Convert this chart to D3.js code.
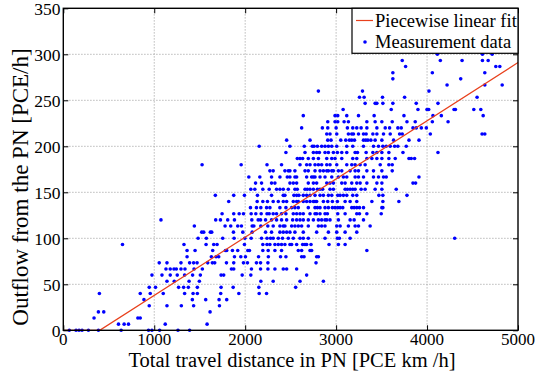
<!DOCTYPE html>
<html><head><meta charset="utf-8">
<script src="https://cdn.jsdelivr.net/npm/d3@7"></script>
<style>body{margin:0;background:#fff}svg{display:block}text{font-family:"Liberation Serif","Times New Roman",serif;fill:#000}</style>
</head><body><svg id="c" width="536" height="373"></svg>
<script>
const xTicks = [0, 1000, 2000, 3000, 4000, 5000];
const yTicks = [0, 50, 100, 150, 200, 250, 300, 350];
const fitX = [0, 400, 5000];
const fitY = [0, 0, 291];
const rowValues = [0, 6.7, 13.3, 20, 26.7, 33.3, 40, 46.7, 53.3, 60, 66.7, 73.3, 80, 86.7, 93.3, 100, 106.7, 113.3, 120, 126.7, 133.3, 140, 146.7, 153.3, 160, 166.7, 173.3, 180, 186.7, 193.3, 200, 206.7, 213.3, 220, 226.7, 233.3, 240, 246.7, 253.3, 260, 266.7, 273.3, 280, 286.7, 293.3, 300];
const rowX = [
 [66, 140, 173, 206, 276, 386, 636, 937, 975, 1059, 1261, 1389],
 [607, 669, 717, 1121, 1581],
 [338, 820, 846],
 [386, 445, 1614],
 [945, 1140, 1298, 1433, 1717],
 [887, 1419, 1566, 1713, 1797],
 [397, 846, 956, 1099, 1334, 1427, 1474, 1731, 1930, 2154, 2235],
 [945, 1014, 1268, 1323, 1375, 1474, 1735, 1868, 2150, 2555],
 [1140, 1220, 1383, 1496, 2172, 2308, 2603, 2860],
 [975, 1085, 1176, 1253, 1334, 1422, 1507, 1735, 1764, 1967, 2062, 2676],
 [1129, 1176, 1217, 1243, 1294, 1338, 1438, 1529, 1849, 1874, 2069, 2169, 2250, 2327, 2419, 2456, 2566],
 [1055, 1140, 1294, 1389, 1433, 1471, 1588, 1639, 1665, 1794, 1874, 1981, 2025, 2124, 2169, 2250, 2779],
 [1361, 1628, 1680, 1709, 1882, 1952, 2003, 2147, 2255, 2389, 2448, 2621, 2647, 2786, 2805],
 [1361, 1449, 1643, 1783, 1797, 1860, 1918, 2029, 2047, 2194, 2253, 2327, 2400, 2584, 2621, 2713, 2731, 3338],
 [651, 1327, 1570, 1654, 1691, 1992, 2194, 2240, 2272, 2327, 2364, 2400, 2437, 2492, 2511, 2566, 2632, 2658, 2676, 2724, 2922, 3025, 3099],
 [1482, 1573, 1753, 1878, 1996, 2066, 2180, 2240, 2279, 2308, 2364, 2411, 2474, 2529, 2603, 2639, 2694, 2878, 3014, 3036, 3154, 4304],
 [1522, 1544, 1617, 1632, 1871, 1974, 2077, 2224, 2290, 2382, 2419, 2456, 2492, 2547, 2639, 2786, 2915, 3007, 3099, 3227],
 [1441, 1779, 1841, 1918, 1959, 2077, 2095, 2172, 2249, 2308, 2382, 2419, 2437, 2511, 2547, 2584, 2621, 2694, 2805, 2841, 2878, 3007, 3044, 3135, 3209, 3246, 3374],
 [1074, 1676, 1728, 1808, 1882, 2073, 2143, 2169, 2224, 2290, 2345, 2400, 2456, 2522, 2566, 2603, 2639, 2694, 2750, 2805, 2841, 2878, 2897, 2933, 3025, 3154, 3198, 3301],
 [1746, 1874, 1934, 1981, 2066, 2117, 2176, 2240, 2264, 2308, 2345, 2400, 2448, 2529, 2566, 2603, 2639, 2713, 2768, 2786, 2823, 2878, 2904, 3018, 3099, 3227, 3257, 3338, 3496],
 [2058, 2124, 2172, 2235, 2272, 2382, 2448, 2511, 2547, 2584, 2694, 2768, 2794, 2823, 2878, 2915, 2959, 2988, 3018, 3044, 3073, 3172, 3198, 3227, 3257, 3301, 3503, 3514],
 [1819, 2132, 2194, 2245, 2308, 2364, 2419, 2456, 2529, 2566, 2584, 2639, 2676, 2713, 2750, 2768, 2786, 2860, 2908, 2959, 3014, 3099, 3154, 3227, 3393, 3514, 3690],
 [1672, 1874, 1992, 2135, 2290, 2419, 2437, 2536, 2566, 2591, 2639, 2676, 2713, 2768, 2823, 2860, 2915, 2952, 3018, 3044, 3080, 3117, 3183, 3227, 3470, 3514, 3779],
 [2062, 2106, 2194, 2264, 2345, 2382, 2419, 2474, 2547, 2573, 2658, 2683, 2713, 2750, 2794, 2823, 2852, 2933, 2970, 3099, 3124, 3154, 3183, 3209, 3275, 3319, 3429, 3503, 3661],
 [2114, 2180, 2290, 2327, 2492, 2529, 2566, 2694, 2750, 2786, 2897, 2933, 2970, 3062, 3099, 3172, 3227, 3264, 3338, 3448, 3503, 3845, 3874],
 [2040, 2161, 2290, 2382, 2463, 2492, 2547, 2566, 2676, 2731, 2750, 2768, 2823, 2878, 2952, 3025, 3080, 3117, 3209, 3246, 3301, 3411, 3466, 3521, 3551, 3911],
 [2272, 2308, 2437, 2474, 2492, 2547, 2658, 2694, 2768, 2823, 2860, 2897, 2915, 2952, 2970, 3025, 3062, 3154, 3209, 3246, 3338, 3411, 3503, 3617],
 [1526, 1956, 2240, 2400, 2603, 2676, 2713, 2768, 2805, 2841, 2897, 2933, 3007, 3117, 3172, 3209, 3264, 3319, 3485, 3580, 3617],
 [2573, 2603, 2632, 2694, 2750, 2805, 2897, 2952, 2988, 3062, 3183, 3227, 3338, 3393, 3448, 3503, 3580, 3650, 3801, 3826, 3863],
 [2448, 2658, 2750, 2786, 2816, 2878, 2915, 2970, 3014, 3062, 3117, 3209, 3235, 3330, 3404, 3448, 3503, 3580, 3735, 4120],
 [2154, 2492, 2650, 2738, 2757, 2794, 2841, 2878, 2915, 2952, 3007, 3117, 3183, 3301, 3411, 3466, 3514, 3551, 3595, 3643, 3679, 3771],
 [2456, 2713, 2908, 2944, 3051, 3106, 3146, 3172, 3202, 3301, 3326, 3349, 3382, 3429, 3503, 3632, 3801, 3911],
 [2897, 2933, 3007, 3135, 3172, 3191, 3246, 3301, 3330, 3404, 3448, 3521, 3595, 3698, 3727, 4036, 4605, 4635],
 [2621, 2849, 2908, 3000, 3124, 3183, 3227, 3275, 3338, 3448, 3540, 3588, 3679, 3716, 3845, 3881, 3937, 3992],
 [2908, 2988, 3018, 3088, 3135, 3338, 3429, 3503, 3617, 3779, 3870, 4058, 4231],
 [2639, 2988, 3018, 3117, 3246, 3418, 3746, 4065, 4157, 4617],
 [3077, 3606, 3900, 3999, 4018, 4297, 4312, 4514, 4591],
 [3319, 3429, 3448, 3514, 3624, 3881, 4120],
 [3257, 3308, 3510, 3753, 4550],
 [2805, 3290, 4021],
 [4220, 4635, 4826],
 [3624, 4370],
 [3624, 4058, 4635],
 [3764, 4756, 4800],
 [3727, 4146, 4385, 4609, 4672],
 [4113, 4609, 4716]
];
const legendLabels = ["Piecewise linear fit", "Measurement data"];

const svg = d3.select("#c");
const L = 63.3, R = 518, T = 8.3, B = 330.3;
const x = d3.scaleLinear().domain([0, 5000]).range([L, R]);
const y = d3.scaleLinear().domain([0, 350]).range([B, T]);

// grid
const g = svg.append("g");
g.selectAll(".gx").data(xTicks.slice(1, -1)).join("line")
  .attr("x1", d => x(d)).attr("x2", d => x(d)).attr("y1", T).attr("y2", B)
  .attr("stroke", "#a8a8a8").attr("stroke-width", 1).attr("stroke-dasharray", "1.2,1.8");
g.selectAll(".gy").data(yTicks.slice(1, -1)).join("line")
  .attr("y1", d => y(d)).attr("y2", d => y(d)).attr("x1", L).attr("x2", R)
  .attr("stroke", "#a8a8a8").attr("stroke-width", 1).attr("stroke-dasharray", "1.2,1.8");

// points
const pts = [];
rowValues.forEach((v, i) => rowX[i].forEach(xv => pts.push([xv, v])));
svg.append("g").selectAll("circle").data(pts).join("circle")
  .attr("cx", d => x(d[0])).attr("cy", d => y(d[1])).attr("r", 1.8).attr("fill", "#0000ff");

// fit line
svg.append("path").datum(fitX.map((d, i) => [d, fitY[i]]))
  .attr("d", d3.line().x(d => x(d[0])).y(d => y(d[1])))
  .attr("fill", "none").attr("stroke", "#e8401c").attr("stroke-width", 1.2);

// axes with inward ticks
const ax = (gen, tr) => svg.append("g").attr("transform", tr).call(gen)
  .call(s => { s.select(".domain").remove(); s.selectAll("line").attr("stroke", "#000").attr("stroke-width", 1); });
ax(d3.axisBottom(x).tickValues(xTicks).tickSize(-5).tickFormat(""), `translate(0,${B})`);
ax(d3.axisTop(x).tickValues(xTicks).tickSize(-5).tickFormat(""), `translate(0,${T})`);
ax(d3.axisLeft(y).tickValues(yTicks).tickSize(-5).tickFormat(""), `translate(${L},0)`);
ax(d3.axisRight(y).tickValues(yTicks).tickSize(-5).tickFormat(""), `translate(${R},0)`);

svg.append("rect").attr("x", L).attr("y", T).attr("width", R - L).attr("height", B - T)
  .attr("fill", "none").attr("stroke", "#000").attr("stroke-width", 1.4);

// tick labels
svg.append("g").selectAll("text").data(xTicks).join("text")
  .attr("x", d => x(d)).attr("y", 344.5).attr("text-anchor", "middle").attr("font-size", 17).text(d => d);
svg.append("g").selectAll("text").data(yTicks).join("text")
  .attr("x", 60.5).attr("y", d => y(d) + 6.8).attr("text-anchor", "end").attr("font-size", 17.5).text(d => d);

// titles
svg.append("text").attr("x", 292).attr("y", 366.5).attr("text-anchor", "middle").attr("font-size", 20.5)
  .text("Total travel distance in PN [PCE km /h]");
svg.append("text").attr("transform", "translate(28,187) rotate(-90)").attr("text-anchor", "middle").attr("font-size", 23)
  .text("Outflow from the PN [PCE/h]");

// legend
const lx = 352, ly = 8.3, lw = R - lx, lh = 45;
svg.append("clipPath").attr("id", "lc").append("rect").attr("x", lx).attr("y", ly).attr("width", lw).attr("height", lh);
const lg = svg.append("g");
lg.append("rect").attr("x", lx).attr("y", ly).attr("width", lw).attr("height", lh).attr("fill", "#fff");
lg.append("line").attr("x1", 356).attr("x2", 373).attr("y1", 20.5).attr("y2", 20.5).attr("stroke", "#e8401c").attr("stroke-width", 1.2);
lg.append("circle").attr("cx", 365).attr("cy", 42).attr("r", 1.8).attr("fill", "#0000ff");
lg.append("g").attr("clip-path", "url(#lc)").selectAll("text").data(legendLabels).join("text")
  .attr("x", 375).attr("y", (d, i) => 27 + i * 21).attr("font-size", 18.5).text(d => d);
lg.append("rect").attr("x", lx).attr("y", ly).attr("width", lw).attr("height", lh).attr("fill", "none").attr("stroke", "#000").attr("stroke-width", 1.2);
</script></body></html>
